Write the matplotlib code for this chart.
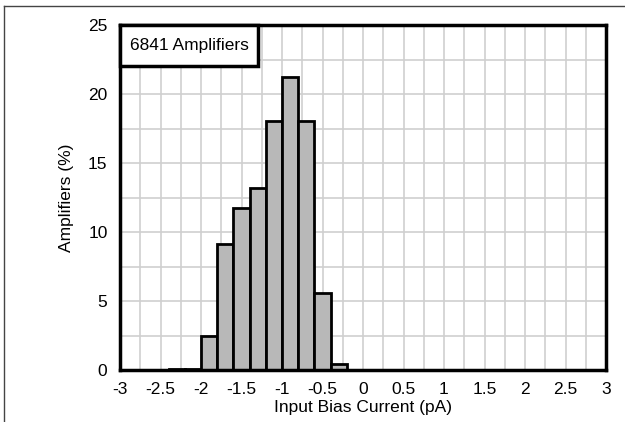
import numpy as np
import matplotlib.pyplot as plt
from matplotlib.lines import Line2D
from matplotlib.patches import Rectangle

plt.rcParams['font.family'] = ['Liberation Sans', 'DejaVu Sans']

# histogram bins (pA), width 0.2, and share of amplifiers per bin (%)
bin_left = [-3.0, -2.8, -2.6, -2.4, -2.2, -2.0, -1.8, -1.6, -1.4, -1.2,
            -1.0, -0.8, -0.6, -0.4, -0.2, 0.0, 0.2, 0.4, 0.6, 0.8,
            1.0, 1.2, 1.4, 1.6, 1.8, 2.0, 2.2, 2.4, 2.6, 2.8]
pct = [0.03, 0.0, 0.0, 0.08, 0.08, 2.48, 9.1, 11.75, 13.2, 18.05,
       21.25, 18.05, 5.6, 0.47, 0.03, 0.0, 0.0, 0.0, 0.0, 0.0,
       0.0, 0.0, 0.0, 0.0, 0.0, 0.0, 0.0, 0.0, 0.03, 0.0]
xticks = [-3, -2.5, -2, -1.5, -1, -0.5, 0, 0.5, 1, 1.5, 2, 2.5, 3]
xtick_labels = ['-3', '-2.5', '-2', '-1.5', '-1', '-0.5', '0', '0.5', '1', '1.5', '2', '2.5', '3']
yticks = [0, 5, 10, 15, 20, 25]

fig = plt.figure(figsize=(6.25, 4.22), dpi=100)
ax = fig.add_axes([120 / 625, 52 / 422, 486 / 625, 345 / 422])

ax.bar(bin_left, pct, width=0.2, align='edge', color='#b8b8b8',
       edgecolor='black', linewidth=2, zorder=3)

ax.set_xlim(-3, 3)
ax.set_ylim(0, 25)
ax.set_xticks(xticks)
ax.set_xticklabels(xtick_labels)
ax.set_yticks(yticks)
ax.set_xticks(np.arange(-3, 3.01, 0.25), minor=True)
ax.set_yticks(np.arange(0, 25.01, 2.5), minor=True)
ax.grid(which='both', color='#cfcfcf', linewidth=1.2, zorder=0)
ax.set_axisbelow(True)
ax.tick_params(which='both', length=0, labelsize=12.5, pad=9)

for s in ax.spines.values():
    s.set_linewidth(2.5)
    s.set_zorder(5)

ax.set_xlabel('Input Bias Current (pA)', fontsize=12.5, labelpad=2)
ax.set_ylabel('Amplifiers (%)', fontsize=12.5, labelpad=10)

# label box in the top-left corner of the plot area
box_w, box_h = 138 / 486, 41 / 345
ax.add_patch(Rectangle((0, 1 - box_h), box_w, box_h, transform=ax.transAxes,
                       facecolor='white', edgecolor='black', linewidth=2.5,
                       zorder=6, clip_on=False))
ax.text(box_w / 2, 1 - box_h / 2, '6841 Amplifiers', transform=ax.transAxes,
        fontsize=12.5, ha='center', va='center', zorder=7)

# frame lines along the top and left of the figure
fig.add_artist(Line2D([4 / 625, 4 / 625], [0, 1 - 6 / 422], transform=fig.transFigure,
                      color='#444444', linewidth=1))
fig.add_artist(Line2D([4 / 625, 1], [1 - 6 / 422, 1 - 6 / 422], transform=fig.transFigure,
                      color='#444444', linewidth=1))

fig.savefig('out.png', dpi=100)
